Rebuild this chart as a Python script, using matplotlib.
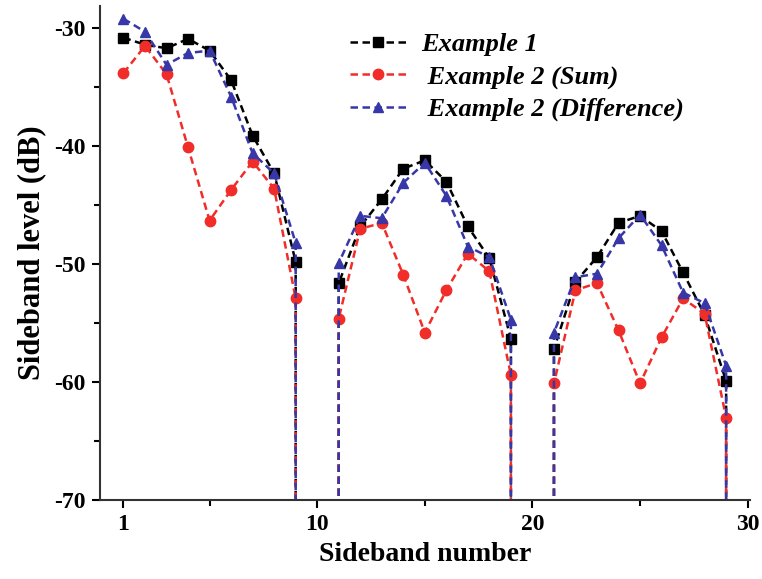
import matplotlib
matplotlib.use("Agg")
import matplotlib.pyplot as plt
from matplotlib.ticker import MultipleLocator, FixedLocator

plt.rcParams["font.family"] = ["Liberation Serif", "DejaVu Serif"]
plt.rcParams["font.weight"] = "bold"
plt.rcParams["axes.unicode_minus"] = False

# sideband numbers (10 and 20 are nulls)
sidebands = [1, 2, 3, 4, 5, 6, 7, 8, 9,
             11, 12, 13, 14, 15, 16, 17, 18, 19,
             21, 22, 23, 24, 25, 26, 27, 28, 29]

example1 = [-30.8, -31.4, -31.7, -30.9, -31.9, -34.4, -39.1, -42.3, -49.8,
            -51.6, -46.8, -44.5, -41.9, -41.2, -43.0, -46.8, -49.5, -56.3,
            -57.2, -51.5, -49.4, -46.5, -45.9, -47.2, -50.7, -54.3, -59.9]

sum_ex2 = [-33.8, -31.5, -33.9, -40.1, -46.3, -43.7, -41.3, -43.6, -52.9,
           -54.6, -47.0, -46.5, -50.9, -55.8, -52.2, -49.1, -50.6, -59.4,
           -60.1, -52.2, -51.6, -55.6, -60.1, -56.2, -52.9, -54.2, -63.0]

diff_ex2 = [-29.2, -30.3, -33.1, -32.1, -31.9, -35.8, -40.6, -42.3, -48.2,
            -49.9, -45.9, -46.1, -43.1, -41.4, -44.2, -48.5, -49.4, -54.7,
            -55.8, -51.1, -50.8, -47.8, -45.8, -48.4, -52.4, -53.3, -58.6]

null_level = -100  # lines fall off the bottom next to each null


def with_nulls(xs, ys):
    # each lobe of 9 points drops to the floor on its sides (not before sideband 1)
    out_x, out_y = [], []
    for start in range(0, len(xs), 9):
        gx = xs[start:start + 9]
        gy = ys[start:start + 9]
        if gx[0] != 1:
            out_x.append(gx[0])
            out_y.append(null_level)
        out_x += gx + [gx[-1]]
        out_y += gy + [null_level]
    return out_x, out_y


fig = plt.figure(figsize=(7.62, 5.79), dpi=100)
ax = fig.add_axes([0.131, 0.136, 0.853, 0.854])

series = [
    (example1, "black", "s", "Example 1"),
    (sum_ex2, "#f02d28", "o", " Example 2 (Sum)"),
    (diff_ex2, "#3737a8", "^", " Example 2 (Difference)"),
]
for vals, col, mk, lab in series:
    px, py = with_nulls(sidebands, vals)
    ax.plot(px, py, linestyle=(0, (3, 1.8)), color=col, lw=1.8,
            marker=mk, markersize=7.5, label=lab)

ax.set_xlim(-0.1, 30.1)
ax.set_ylim(-70, -28.1)
ax.xaxis.set_major_locator(FixedLocator([1, 10, 20, 30]))
ax.xaxis.set_minor_locator(FixedLocator([5, 15, 25]))
ax.yaxis.set_major_locator(MultipleLocator(10))
ax.yaxis.set_minor_locator(MultipleLocator(5))

for s in ["top", "right"]:
    ax.spines[s].set_visible(False)
for s in ["left", "bottom"]:
    ax.spines[s].set_linewidth(1.5)
    ax.spines[s].set_color("#333333")

ax.tick_params(which="major", direction="out", length=6, width=1.5,
               labelsize=17, pad=4)
ax.tick_params(which="minor", direction="out", length=4, width=1.5)

ax.set_xlabel("Sideband number", fontsize=20, fontweight="bold", labelpad=5)
ax.set_ylabel("Sideband level (dB)", fontsize=22, fontweight="bold", labelpad=6)

leg = ax.legend(loc="upper left", bbox_to_anchor=(0.36, 0.978), frameon=False,
                handlelength=2.15, handletextpad=0.55, labelspacing=0.33,
                borderaxespad=0.2,
                prop={"family": "Liberation Serif", "style": "italic",
                      "weight": "bold", "size": 19})

fig.savefig("out.png", dpi=100)
